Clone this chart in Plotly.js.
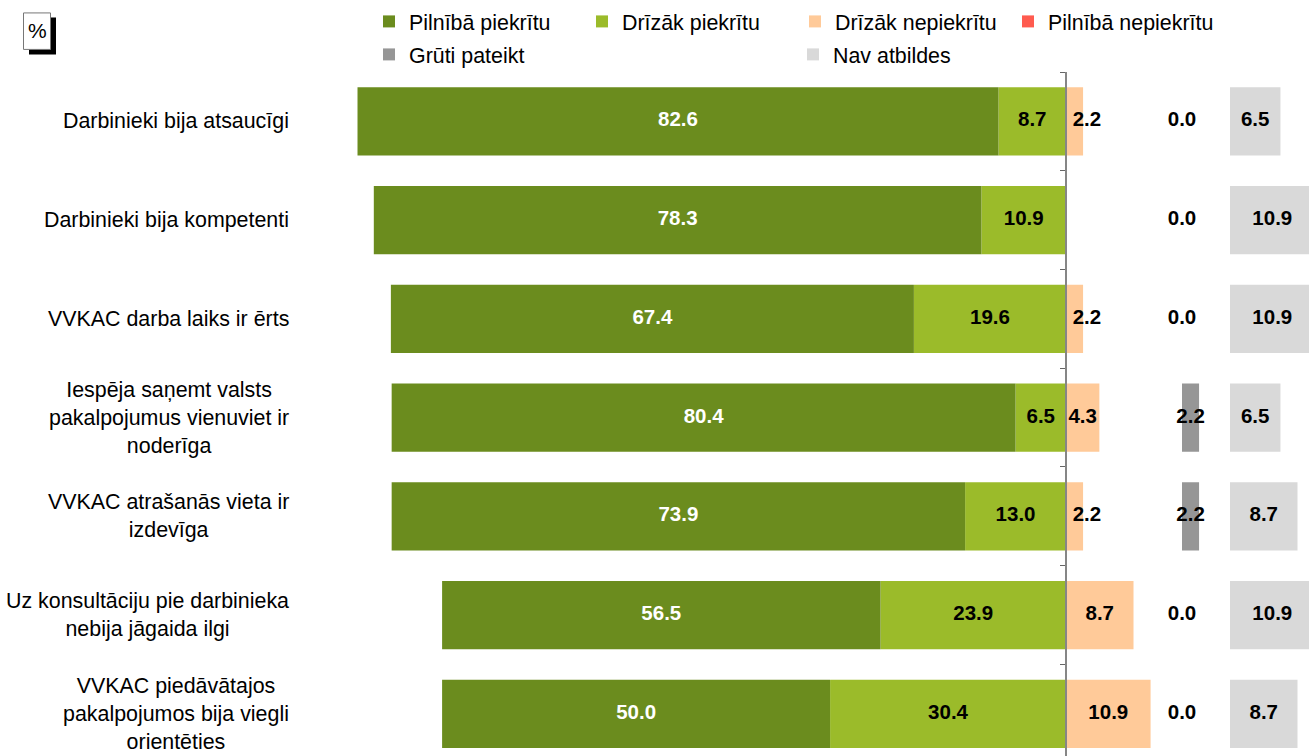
<!DOCTYPE html>
<html>
<head>
<meta charset="utf-8">
<script src="https://cdn.plot.ly/plotly-3.0.1.min.js"></script>
<style>html,body{margin:0;padding:0;overflow:hidden;background:#fff}#chart{width:1309px;height:756px}</style>
</head>
<body>
<div id="chart"></div>
<script>
// ---- data ----
const categories = [
  'Darbinieki bija atsaucīgi',
  'Darbinieki bija kompetenti',
  'VVKAC darba laiks ir ērts',
  'Iespēja saņemt valsts<br>pakalpojumus vienuviet ir<br>noderīga',
  'VVKAC atrašanās vieta ir<br>izdevīga',
  'Uz konsultāciju pie darbinieka<br>nebija jāgaida ilgi',
  'VVKAC piedāvātajos<br>pakalpojumos bija viegli<br>orientēties'
];
const fullyAgree     = [82.6, 78.3, 67.4, 80.4, 73.9, 56.5, 50.0];
const ratherAgree    = [8.7, 10.9, 19.6, 6.5, 13.0, 23.9, 30.4];
const ratherDisagree = [2.2, 0.0, 2.2, 4.3, 2.2, 8.7, 10.9];
const fullyDisagree  = [0.0, 0.0, 0.0, 0.0, 0.0, 0.0, 0.0];
const hardToSay      = [0.0, 0.0, 0.0, 2.2, 2.2, 0.0, 0.0];
const noAnswer       = [6.5, 10.9, 10.9, 6.5, 8.7, 10.9, 8.7];
const seriesNames = ['Pilnībā piekrītu', 'Drīzāk piekrītu', 'Drīzāk nepiekrītu', 'Pilnībā nepiekrītu', 'Grūti pateikt', 'Nav atbildes'];

// ---- style / layout constants ----
const W = 1309, H = 756;
const FONT = 'Liberation Sans, Arial, sans-serif';
const colors = ['#6B8C1E', '#9BBB2A', '#FFCA99', '#FF5B4F', '#969696', '#D9D9D9'];
const PX = 7.76;          // pixels per percentage point
const ZERO = 1066;        // pixel of the zero line
const TOP = 71.6;         // plot top pixel
const BARW = 0.69;
const TXT = 21.4;
const yRange = [(H - TOP) / 98.8 - 0.5, -0.5];

const fmt = v => v.toFixed(1);
const xp = p => p / W;
const yp = p => (H - p) / (H - TOP);

const lblFont = (c) => ({family: FONT, size: 20.5, color: c, weight: 'bold'});

const traces = [];
// left side: relative stacking, first negative trace sits next to zero
traces.push({type: 'bar', orientation: 'h', name: seriesNames[1], y: categories, x: ratherAgree.map(v => -v),
  marker: {color: colors[1]}, width: BARW, legend: 'legend', legendrank: 2, hoverinfo: 'skip'});
traces.push({type: 'bar', orientation: 'h', name: seriesNames[0], y: categories, x: fullyAgree.map(v => -v),
  marker: {color: colors[0]}, width: BARW, legend: 'legend', legendrank: 1, hoverinfo: 'skip'});
traces.push({type: 'bar', orientation: 'h', name: seriesNames[2], y: categories, x: ratherDisagree,
  marker: {color: colors[2]}, width: BARW, legend: 'legend', legendrank: 3, hoverinfo: 'skip'});
traces.push({type: 'bar', orientation: 'h', name: seriesNames[3], y: categories, x: fullyDisagree,
  marker: {color: colors[3]}, width: BARW, legend: 'legend', legendrank: 4, hoverinfo: 'skip'});
traces.push({type: 'bar', orientation: 'h', name: seriesNames[4], y: categories, x: hardToSay, xaxis: 'x2',
  marker: {color: colors[4]}, width: BARW, legend: 'legend2', legendrank: 1, hoverinfo: 'skip'});
traces.push({type: 'bar', orientation: 'h', name: seriesNames[5], y: categories, x: noAnswer, xaxis: 'x3',
  marker: {color: colors[5]}, width: BARW, legend: 'legend2', legendrank: 2, hoverinfo: 'skip'});

// value labels
const textTrace = (xs, ys, txt, color, xaxis) => ({type: 'scatter', mode: 'text', x: xs, y: ys, text: txt,
  textposition: 'middle center', textfont: lblFont(color), showlegend: false, hoverinfo: 'skip',
  cliponaxis: false, xaxis: xaxis || 'x'});
traces.push(textTrace(fullyAgree.map((v, i) => -(ratherAgree[i] + v / 2)), categories, fullyAgree.map(fmt), '#FFFFFF'));
traces.push(textTrace(ratherAgree.map(v => -v / 2), categories, ratherAgree.map(fmt), '#000000'));
const rdIdx = ratherDisagree.map((v, i) => i).filter(i => ratherDisagree[i] > 0);
traces.push(textTrace(rdIdx.map(i => ratherDisagree[i] < 3 ? 2.7 : ratherDisagree[i] / 2), rdIdx.map(i => categories[i]),
  rdIdx.map(i => fmt(ratherDisagree[i])), '#000000'));
traces.push(textTrace(hardToSay.map(v => v / 2), categories, hardToSay.map(fmt), '#000000', 'x2'));
traces.push(textTrace(noAnswer.map(v => v / 2), categories, noAnswer.map(fmt), '#000000', 'x3'));

// category labels
const annotations = categories.map(c => ({xref: 'paper', yref: 'y', x: xp(291), y: c, text: c, showarrow: false,
  xanchor: 'right', yanchor: 'middle', align: 'center', font: {family: FONT, size: TXT, color: '#000'}}));
annotations.push({xref: 'paper', yref: 'paper', x: xp(37), y: yp(30), text: '%', showarrow: false,
  xanchor: 'center', yanchor: 'middle', font: {family: FONT, size: 21, color: '#000'}});

const shapes = [
  {type: 'rect', xref: 'paper', yref: 'paper', x0: xp(29), x1: xp(56), y0: yp(54), y1: yp(17), fillcolor: '#000', line: {width: 0}},
  {type: 'rect', xref: 'paper', yref: 'paper', x0: xp(23.5), x1: xp(50.5), y0: yp(49), y1: yp(12.5), fillcolor: '#fff', line: {color: '#777', width: 1}}
];

const mainLeft = -ZERO / PX, mainRight = (1160 - ZERO) / PX;
const layout = {
  width: W, height: H,
  margin: {l: 0, r: 0, t: TOP, b: 0, pad: 0, autoexpand: false},
  paper_bgcolor: '#fff', plot_bgcolor: 'rgba(0,0,0,0)',
  barmode: 'relative',
  showlegend: true,
  font: {family: FONT, color: '#000'},
  xaxis: {domain: [0, xp(1160)], range: [mainLeft, mainRight], visible: false, fixedrange: true},
  xaxis2: {domain: [xp(1160), xp(1220)], range: [-(1182 - 1160) / PX, (1220 - 1182) / PX], visible: false, anchor: 'y', fixedrange: true},
  xaxis3: {domain: [xp(1225), 1], range: [-(1230 - 1225) / PX, (W - 1230) / PX], visible: false, anchor: 'y', fixedrange: true},
  yaxis: {type: 'category', categoryorder: 'array', categoryarray: categories, range: yRange, autorange: false,
    anchor: 'free', position: xp(ZERO), side: 'left', showgrid: false, zeroline: false,
    showline: true, linecolor: '#868686', linewidth: 2, ticks: 'outside', ticklen: 5, tickwidth: 1, tickcolor: '#666',
    tickson: 'boundaries', showticklabels: false, fixedrange: true},
  legend: {orientation: 'h', xref: 'container', yref: 'container', x: xp(409 - 40), y: 1 - 1 / H,
    xanchor: 'left', yanchor: 'top', entrywidth: 168, entrywidthmode: 'pixels', traceorder: 'normal',
    font: {family: FONT, size: TXT, color: '#000'}, bgcolor: 'rgba(0,0,0,0)', borderwidth: 0},
  legend2: {orientation: 'h', xref: 'container', yref: 'container', x: xp(409 - 40), y: 1 - 34 / H,
    xanchor: 'left', yanchor: 'top', entrywidth: 379, entrywidthmode: 'pixels', traceorder: 'normal',
    font: {family: FONT, size: TXT, color: '#000'}, bgcolor: 'rgba(0,0,0,0)', borderwidth: 0},
  annotations: annotations,
  shapes: shapes
};

Plotly.newPlot('chart', traces, layout, {displayModeBar: false, staticPlot: true});
</script>
</body>
</html>
